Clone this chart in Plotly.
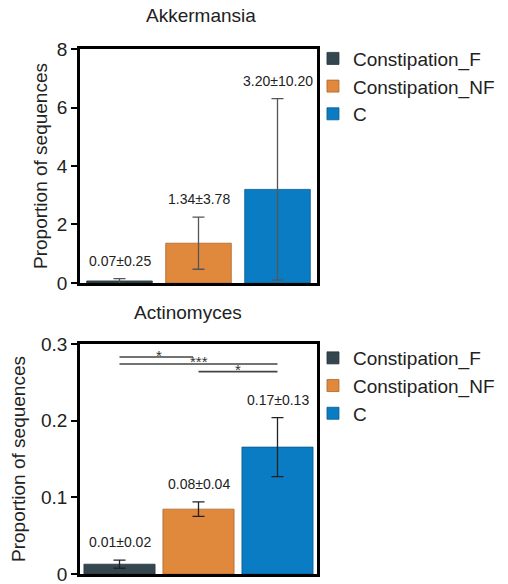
import plotly.graph_objects as go

# ---- data ----
groups = ["Constipation_F", "Constipation_NF", "C"]
colors = ["#34474f", "#e0893d", "#0a7cc4"]
edge_colors = ["#26343a", "#a8642c", "#07598c"]

akk_mean = [0.07, 1.36, 3.20]
akk_err = [0.08, 0.89, 3.10]
akk_labels = ["0.07±0.25", "1.34±3.78", "3.20±10.20"]

act_mean = [0.0128, 0.0846, 0.1655]
act_err = [0.0053, 0.0095, 0.0385]
act_labels = ["0.01±0.02", "0.08±0.04", "0.17±0.13"]

# significance brackets for Actinomyces: (x start, x end, level, stars)
sig_x0 = [0, 0, 1]
sig_x1 = [0.93, 2, 2]
sig_y = [0.283, 0.274, 0.264]
sig_text = ["*", "***", "*"]
sig_star_x = [0.5, 1.0, 1.5]

FONT = "Liberation Sans, Arial, sans-serif"
TXT = "#222222"

fig = go.Figure()

for i, g in enumerate(groups):
    fig.add_trace(go.Bar(
        x=[i], y=[akk_mean[i]], name=g, width=0.83,
        marker=dict(color=colors[i], line=dict(color=edge_colors[i], width=0.8)),
        error_y=dict(type="data", array=[akk_err[i]], color="#555555",
                     thickness=1.3, width=6),
        xaxis="x", yaxis="y", legend="legend",
    ))
for i, g in enumerate(groups):
    fig.add_trace(go.Bar(
        x=[i], y=[act_mean[i]], name=g, width=0.9,
        marker=dict(color=colors[i], line=dict(color=edge_colors[i], width=0.8)),
        error_y=dict(type="data", array=[act_err[i]], color="#222222",
                     thickness=1.3, width=6),
        xaxis="x2", yaxis="y2", legend="legend2",
    ))

annotations = []
for i in range(3):
    annotations.append(dict(x=i, y=akk_mean[i] + akk_err[i], xref="x", yref="y",
                            text=akk_labels[i], showarrow=False, yanchor="bottom",
                            yshift=8, font=dict(size=14, color=TXT, family=FONT)))
    annotations.append(dict(x=i, y=act_mean[i] + act_err[i], xref="x2", yref="y2",
                            text=act_labels[i], showarrow=False, yanchor="bottom",
                            yshift=8, font=dict(size=14, color=TXT, family=FONT)))

shapes = []
for x0, x1, yy, t, sx in zip(sig_x0, sig_x1, sig_y, sig_text, sig_star_x):
    shapes.append(dict(type="line", xref="x2", yref="y2", x0=x0, x1=x1, y0=yy, y1=yy,
                       line=dict(color="#444444", width=1.6)))
    annotations.append(dict(x=sx, y=yy, xref="x2", yref="y2", text=t, showarrow=False,
                            yanchor="middle", yshift=2,
                            font=dict(size=15, color="#333333", family=FONT)))

# panel titles
annotations.append(dict(x=0.5105, y=1.063, xref="paper", yref="paper", text="Akkermansia",
                        showarrow=False, xanchor="center", yanchor="middle",
                        font=dict(size=19, color=TXT, family=FONT)))
annotations.append(dict(x=0.456, y=0.499, xref="paper", yref="paper", text="Actinomyces",
                        showarrow=False, xanchor="center", yanchor="middle",
                        font=dict(size=19, color=TXT, family=FONT)))

axis_common = dict(showline=True, linecolor="black", linewidth=2.5, mirror=True,
                   showgrid=False, zeroline=False)
xaxis_common = dict(axis_common, range=[-0.5, 2.5], showticklabels=False, ticks="")
yaxis_common = dict(axis_common, ticks="outside", ticklen=6, tickwidth=1.5,
                    tickcolor="black", ticklabeloverflow="allow",
                    tickfont=dict(size=19, color=TXT, family=FONT),
                    title=dict(text="Proportion of sequences",
                               font=dict(size=19, color=TXT, family=FONT)))

legend_common = dict(font=dict(size=19, color=TXT, family=FONT), bgcolor="rgba(0,0,0,0)",
                     xanchor="left", yanchor="top", itemwidth=30, tracegroupgap=0,
                     itemclick=False)

fig.update_layout(
    width=508, height=584,
    margin=dict(l=80, r=191, t=49, b=10, autoexpand=False),
    paper_bgcolor="white", plot_bgcolor="white",
    barmode="overlay",
    xaxis=dict(xaxis_common, domain=[0, 1], anchor="y"),
    yaxis=dict(yaxis_common, domain=[0.5543, 1], range=[0, 8], dtick=2,
               title_standoff=5),
    xaxis2=dict(xaxis_common, domain=[0, 1], anchor="y2"),
    yaxis2=dict(yaxis_common, domain=[0, 0.4381], range=[0, 0.3], dtick=0.1,
                title_standoff=11),
    legend=dict(legend_common, x=0.983, y=1.018),
    legend2=dict(legend_common, x=0.983, y=0.4476),
    annotations=annotations,
    shapes=shapes,
    showlegend=True,
)

fig.write_html("out.html")
